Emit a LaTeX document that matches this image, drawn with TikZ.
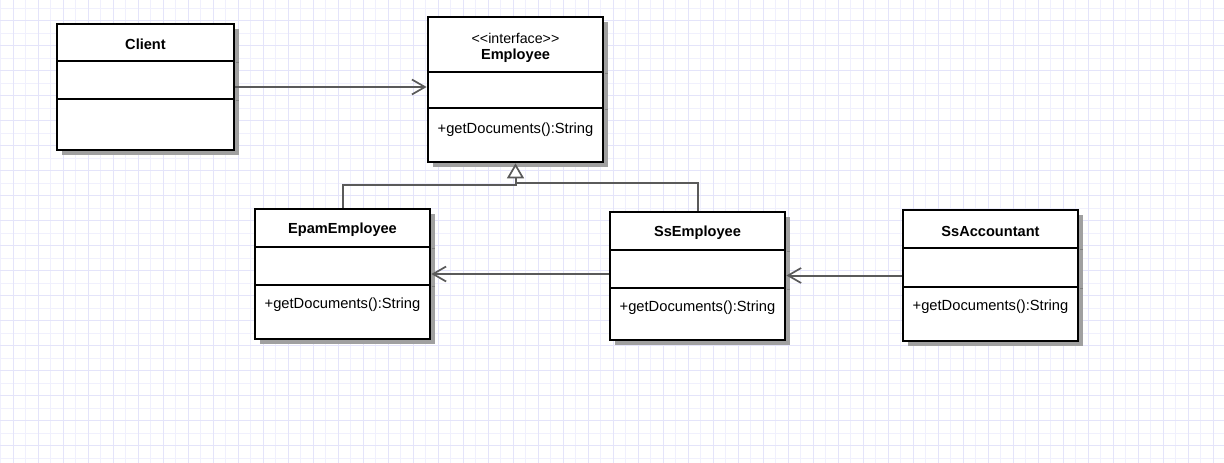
\documentclass[tikz,border=0pt]{standalone}
\usepackage{fontspec}
\setmainfont{Liberation Sans}
\usetikzlibrary{arrows.meta}
\definecolor{gridA}{RGB}{240,240,253}
\definecolor{gridB}{RGB}{228,228,250}
\definecolor{shadowc}{RGB}{160,160,160}
\definecolor{conn}{RGB}{90,90,90}
\tikzset{
 classbox/.style={draw=black, line width=2.8pt, fill=white, inner sep=0pt},
 shadowbox/.style={fill=shadowc, draw=none},
 divider/.style={draw=black, line width=2.8pt},
 shadowtick/.style={draw=shadowc!80!black, line width=1pt},
 titletext/.style={font=\fontsize{14.6}{17}\selectfont\bfseries, inner sep=0pt},
 stereotext/.style={font=\fontsize{14.2}{17}\selectfont, inner sep=0pt},
 methodtext/.style={font=\fontsize{14.7}{17}\selectfont, inner sep=0pt, anchor=west},
 assoc/.style={draw=conn, line width=2pt, -{Straight Barb[length=13pt,width=15pt,line width=1.7pt]}},
 realize/.style={draw=conn, line width=2pt},
 inherit/.style={draw=conn, line width=2pt, -{Triangle[length=15pt,width=17pt,fill=white,line width=1.7pt]}},
 gridline/.style={draw=gridA, line width=1pt},
 gridlineB/.style={draw=gridB, line width=1pt},
}
% name, x1, y1, x2, y2, divider1, divider2
\newcommand{\myclassbox}[7]{%
 \fill[shadowbox] (#2+5,#3+5) rectangle (#4+5,#5+5);
 \node[classbox, minimum width={(#4-#2)*1pt}, minimum height={(#5-#3)*1pt}] (#1) at ({(#2+#4)/2},{(#3+#5)/2}) {};
 \draw[divider] (#2,#6) -- (#4,#6);
 \draw[divider] (#2,#7) -- (#4,#7);
 \draw[shadowtick] (#4+1.5,#6+1) -- (#4+5,#6+1);
 \draw[shadowtick] (#4+1.5,#7+1) -- (#4+5,#7+1);
}
\begin{document}
\begin{tikzpicture}[x=1pt,y=-1pt]
\useasboundingbox (0,0) rectangle (1224,463);
\fill[white] (0,0) rectangle (1224,463);
% grid
\foreach \x in {0.8,13.3,...,1224} \draw[gridline] (\x,0) -- (\x,463);
\foreach \y in {8,20.5,...,463} \draw[gridline] (0,\y) -- (1224,\y);
\foreach \x in {13.3,38.3,...,1224} \draw[gridlineB] (\x,0) -- (\x,463);
\foreach \y in {20.5,45.5,...,463} \draw[gridlineB] (0,\y) -- (1224,\y);

% classes
\myclassbox{client}{57}{24}{234}{150}{61}{99}
\myclassbox{employee}{428}{17}{603}{162}{72}{108}
\myclassbox{epam}{255}{209}{430}{339}{247}{285}
\myclassbox{ssemp}{610}{212}{785}{340}{250}{288}
\myclassbox{ssacc}{903}{210}{1078}{341}{248}{287}

% texts
\node[titletext] (client-title) at (145.5,44.5) {Client};
\node[stereotext] (emp-stereo) at (515.5,38) {\textless\kern0pt\textless interface\textgreater\kern0pt\textgreater};
\node[titletext] (emp-title) at (515.5,55.5) {Employee};
\node[methodtext] (emp-m) at (437.5,129.5) {+getDocuments():String};
\node[titletext] (epam-title) at (342.5,229.5) {EpamEmployee};
\node[methodtext] (epam-m) at (264.5,304.5) {+getDocuments():String};
\node[titletext] (ssemp-title) at (697.5,232.5) {SsEmployee};
\node[methodtext] (ssemp-m) at (619.5,307.5) {+getDocuments():String};
\node[titletext] (ssacc-title) at (990.5,231.5) {SsAccountant};
\node[methodtext] (ssacc-m) at (912.5,306.5) {+getDocuments():String};

% connectors
\coordinate (jr) at (515.5,183);
\draw[realize] (ssemp.north) |- (jr);
\draw[inherit] (epam.north) -- ++(0,-23) -| (employee.south);
\draw[assoc] (client.east) -- (client.east -| employee.west);
\draw[assoc] (ssemp.west |- epam.east) -- (epam.east);
\draw[assoc] (ssacc.west) -- (ssacc.west -| ssemp.east);
\end{tikzpicture}
\end{document}
